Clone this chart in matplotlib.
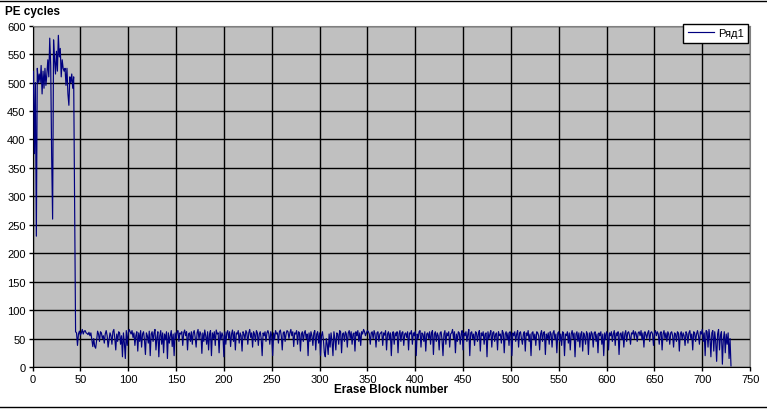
import matplotlib as mpl
import matplotlib.pyplot as plt
from matplotlib.lines import Line2D
import numpy as np

# PE cycles per erase block (block 0 .. 730)
pe_head = [480, 520, 375, 500, 230, 525, 500, 515, 500, 530,
           480, 520, 490, 525, 495, 515, 540, 510, 578, 530,
           370, 260, 575, 540, 515, 555, 520, 583, 545, 560,
           510, 540, 525, 520, 525, 495, 525, 480, 460, 510,
           500, 515, 490, 510, 285]
pe_tail = [
    62, 60, 38, 58, 63, 56, 60, 66, 58, 63, 64, 60, 59, 57, 61, 55, 60, 48, 36, 50,
    36, 33, 47, 63, 58, 45, 62, 60, 50, 55, 42, 58, 64, 55, 35, 48, 60, 55, 40, 62,
    66, 50, 30, 58, 45, 62, 60, 40, 55, 18, 60, 42, 15, 64, 38, 60, 66, 62, 58, 64,
    52, 60, 38, 55, 62, 28, 60, 45, 64, 35, 58, 62, 48, 22, 60, 55, 42, 63, 20, 58,
    62, 45, 60, 66, 30, 52, 62, 18, 55, 64, 40, 60, 25, 58, 48, 62, 15, 60, 42, 55,
    64, 36, 58, 20, 60, 50, 62, 64, 45, 60, 58, 62, 38, 60, 65, 55, 62, 30, 58, 60,
    45, 62, 40, 60, 64, 52, 35, 60, 66, 48, 62, 58, 24, 60, 45, 65, 55, 40, 62, 30,
    58, 64, 20, 60, 50, 62, 38, 65, 58, 60, 25, 62, 48, 60, 55, 18, 62, 40, 60, 64,
    50, 62, 36, 58, 65, 45, 62, 30, 60, 58, 64, 42, 60, 55, 28, 62, 58, 48, 64, 60,
    40, 60, 66, 52, 60, 35, 62, 58, 45, 64, 60, 38, 58, 62, 50, 20, 60, 55, 62, 45,
    60, 64, 58, 40, 62, 55, 20, 60, 48, 64, 58, 60, 42, 62, 65, 55, 30, 60, 62, 45,
    58, 64, 62, 50, 60, 66, 55, 62, 36, 60, 58, 64, 40, 62, 60, 28, 58, 62, 45, 60,
    64, 50, 58, 20, 60, 45, 62, 55, 38, 60, 64, 30, 58, 62, 42, 60, 20, 55, 62, 48,
    25, 18, 50, 40, 22, 58, 35, 60, 45, 20, 62, 50, 30, 60, 58, 40, 64, 62, 25, 58,
    60, 45, 62, 58, 35, 60, 64, 50, 62, 40, 58, 60, 28, 62, 55, 64, 45, 60, 38, 62,
    58, 66, 62, 55, 60, 64, 62, 58, 40, 60, 62, 50, 64, 58, 35, 60, 62, 45, 58, 60,
    62, 38, 60, 56, 64, 30, 58, 62, 48, 60, 20, 58, 62, 40, 60, 55, 62, 25, 58, 64,
    45, 60, 62, 38, 58, 60, 52, 62, 30, 60, 58, 64, 40, 60, 55, 62, 20, 58, 50, 62,
    64, 35, 60, 58, 45, 62, 28, 58, 60, 50, 62, 40, 60, 64, 22, 58, 62, 45, 60, 55,
    30, 60, 62, 48, 20, 58, 64, 40, 60, 55, 62, 35, 58, 60, 66, 50, 62, 25, 58, 45,
    62, 60, 40, 58, 64, 30, 60, 55, 62, 45, 58, 66, 20, 60, 62, 50, 58, 38, 62, 60,
    45, 58, 64, 28, 60, 55, 62, 40, 58, 60, 18, 62, 50, 58, 64, 35, 60, 62, 45, 58,
    60, 30, 62, 55, 58, 42, 64, 60, 25, 58, 62, 48, 60, 38, 62, 58, 20, 60, 55, 62,
    45, 58, 64, 35, 60, 62, 50, 40, 58, 62, 28, 60, 55, 64, 45, 58, 20, 60, 62, 48,
    58, 38, 62, 60, 55, 30, 58, 64, 45, 60, 62, 22, 58, 50, 60, 40, 62, 58, 35, 60,
    64, 48, 58, 25, 60, 62, 45, 58, 38, 62, 60, 20, 58, 55, 62, 42, 60, 30, 58, 64,
    50, 60, 18, 58, 62, 45, 60, 35, 58, 62, 28, 60, 55, 40, 62, 58, 22, 60, 48, 62,
    58, 35, 60, 62, 45, 58, 25, 60, 55, 62, 40, 58, 20, 60, 48, 62, 58, 30, 60, 55,
    62, 45, 58, 64, 38, 60, 55, 62, 22, 58, 60, 48, 62, 35, 58, 64, 45, 60, 62, 55,
    40, 60, 58, 64, 50, 62, 58, 45, 60, 62, 55, 64, 48, 60, 35, 62, 58, 50, 60, 64,
    45, 60, 62, 58, 38, 60, 64, 55, 62, 58, 40, 60, 62, 30, 58, 64, 50, 60, 45, 62,
    58, 40, 60, 62, 55, 35, 60, 58, 45, 62, 60, 28, 58, 62, 48, 60, 55, 38, 62, 58,
    42, 60, 64, 50, 58, 30, 62, 60, 45, 58, 64, 55, 40, 62, 58, 66, 45, 60, 20, 64,
    62, 35, 66, 50, 18, 60, 64, 28, 62, 45, 10, 58, 66, 30, 55, 62, 5, 48, 62, 25,
    58, 40, 60, 15, 50, 2,
]
pe_cycles = pe_head + pe_tail
blocks = np.arange(len(pe_cycles))

x_ticks = list(range(0, 751, 50))
y_ticks = list(range(0, 601, 50))

mpl.rcParams.update({
    "font.family": ["Liberation Sans", "DejaVu Sans"],
    "font.size": 8,
})

fig = plt.figure(figsize=(7.67, 4.10), dpi=100)
ax = fig.add_axes([0.0424, 0.1024, 0.9356, 0.8326])
ax.set_facecolor("#c0c0c0")

ax.plot(blocks, pe_cycles, color="#000080", linewidth=0.85, label="Ряд1", zorder=3)

ax.set_xlim(0, 750)
ax.set_ylim(0, 600)
ax.set_xticks(x_ticks)
ax.set_yticks(y_ticks)
ax.grid(True, color="black", linewidth=1.0, zorder=1)
ax.set_axisbelow(True)
ax.tick_params(direction="out", length=3, width=1, pad=2, labelsize=8)

for side in ("left", "bottom"):
    ax.spines[side].set_color("black")
for side in ("top", "right"):
    ax.spines[side].set_color("#808080")

ax.set_xlabel("Erase Block number", fontweight="bold", fontsize=8.5, labelpad=-1)
fig.text(0.006, 0.955, "PE cycles", fontweight="bold", fontsize=8.5, ha="left", va="bottom")

leg = ax.legend(loc="upper right", bbox_to_anchor=(0.997, 1.005), fontsize=8,
                frameon=True, fancybox=False, framealpha=1, edgecolor="black",
                handlelength=2.4, borderpad=0.4, handletextpad=0.3, borderaxespad=0)
leg.get_frame().set_linewidth(1)

fig.add_artist(Line2D([0, 1], [0.995, 0.995], color="black", linewidth=1, transform=fig.transFigure))
fig.add_artist(Line2D([0, 1], [0.006, 0.006], color="black", linewidth=1, transform=fig.transFigure))

fig.savefig("out.png", dpi=100)
